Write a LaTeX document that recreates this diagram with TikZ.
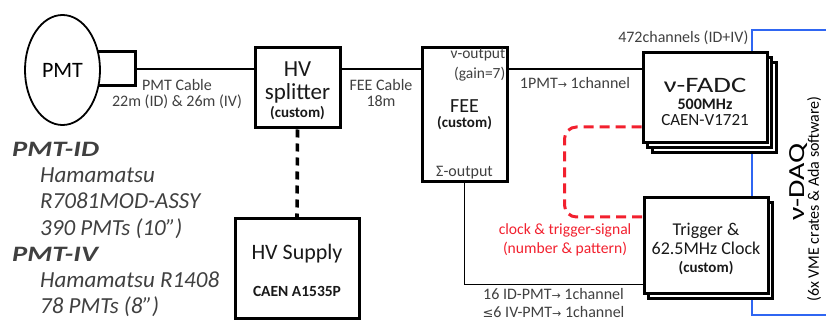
\documentclass[tikz,border=0pt]{standalone}
\usepackage{fontspec}
\setmainfont{Carlito}
\newfontfamily\symfont{DejaVu Sans}
\newfontfamily\widefont[FakeStretch=1.3]{Carlito}
\newfontfamily\headfont[FakeStretch=1.3]{Carlito}
\usetikzlibrary{positioning, shadows, shapes.geometric}
\definecolor{labelgray}{HTML}{404040}
\definecolor{trigred}{HTML}{F2202E}
\definecolor{daqblue}{HTML}{2F66F2}
\newcommand{\fsz}[1]{\fontsize{#1}{#1}\selectfont}
\newcommand{\pmtarrow}{{\symfont\fontsize{11}{11}\selectfont →}}
\newcommand{\leqsym}{{\symfont\fontsize{13}{13}\selectfont ≤}}

\begin{document}
\begin{tikzpicture}[
      x=1pt, y=-1pt,
      % ブロックの基本スタイル設定
      block/.style={rectangle, draw, line width=3pt, fill=white, align=center, inner sep=0pt, text=black!90},
      shade1/.style={copy shadow={shadow xshift=4.5pt, shadow yshift=-5pt, draw, fill=white, line width=3pt}},
      shade2/.style={copy shadow={shadow xshift=9pt, shadow yshift=-10pt, draw, fill=white, line width=3pt}, shade1},
      % 線のスタイル設定
      cable/.style={draw, line width=1.8pt},
      hvline/.style={draw, line width=3.6pt, dash pattern=on 8pt off 6pt},
      trigline/.style={draw=trigred, line width=3pt, dash pattern=on 10pt off 6pt, rounded corners=12pt},
      daqline/.style={draw=daqblue, line width=2.8pt},
      tag/.style={text=labelgray, align=center, inner sep=1pt, font=\fsz{16}}
    ]
    \clip (0,0) rectangle (826,320);

    % --- 右端：DAQ（青枠） ---
    \node [daqline, minimum width=130pt, minimum height=285pt, inner sep=0pt] (daq) at (817,172.5) {};
    \node [tag, anchor=north east, inner sep=2pt] (nch) at (daq.north west) {472channels (ID+IV)};
    \node [rotate=90, font=\widefont\fsz{23}] (daqname) at (799,182) {ν-DAQ};
    \node [rotate=90, font=\fsz{16}] (daqinfo) at (814,199) {(6x VME crates \& Ada software)};

    % --- 左側：PMT ---
    \node [draw, line width=3pt, minimum width=45pt, minimum height=34pt] (base) at (112.5,69) {};
    \node [ellipse, draw, line width=1.8pt, fill=white, minimum width=75pt, minimum height=110pt, font=\fsz{22}] (pmt) at (62.5,70) {PMT};
    \node [anchor=north west, align=left, inner sep=0pt, text=labelgray, font=\itshape\fontsize{23}{26.2}\selectfont] (spec) at (12,142)
      {{\headfont\bfseries\fsz{22}PMT-ID}\\
       \hspace*{28pt}Hamamatsu\\
       \hspace*{28pt}R7081MOD-ASSY\\
       \hspace*{28pt}390 PMTs (10”)\\
       {\headfont\bfseries\fsz{22}PMT-IV}\\
       \hspace*{28pt}Hamamatsu R1408\\
       \hspace*{28pt}78 PMTs (8”)};

    % --- 中央：HV と FEE ---
    \node [block, minimum width=85pt, minimum height=80pt, text height=60pt, text depth=0pt, font=\fontsize{23}{23.3}\selectfont] (splitter) at (297.5,88)
      {HV\\splitter\\[-5pt]{\bfseries\fsz{15}(custom)}};
    \node [block, minimum width=124pt, minimum height=99pt, text height=55pt, text depth=0pt, font=\fontsize{22}{36.7}\selectfont] (hvsupply) at (297,268.5)
      {HV Supply\\{\bfseries\fsz{15.5}CAEN A1535P}};
    \node [block, minimum width=85pt, minimum height=134pt, text height=27pt, text depth=0pt, font=\fontsize{15}{15.2}\selectfont] (fee) at (464.5,114.5)
      {{\fsz{20}FEE}\\{\bfseries(custom)}};
    \node [tag, anchor=north east, align=right, inner sep=3pt, font=\fontsize{15.5}{20}\selectfont] (vout) at (fee.north east) {ν-output\\(gain=7)};
    \node [tag, anchor=south, inner sep=4pt] (sout) at (fee.south) {Σ-output};

    % --- 右側：FADC と Trigger ---
    \node [block, shade2, minimum width=124pt, minimum height=90pt, text height=56pt, text depth=0pt, font=\fontsize{17}{16}\selectfont] (fadc) at (705,98)
      {{\widefont\fsz{22}ν-FADC}\\[1.7pt]{\bfseries\fsz{16}500MHz}\\CAEN-V1721};
    \node [block, shade1, minimum width=124pt, minimum height=95pt, text height=53pt, text depth=0pt, font=\fontsize{18}{19}\selectfont] (trigger) at (706,245.5)
      {Trigger \&\\62.5MHz Clock\\[-1pt]{\bfseries\fsz{15}(custom)}};
    \node [tag, text=trigred, font=\fontsize{15.6}{19}\selectfont, left=10pt of trigger, yshift=6pt] (siglabel) {clock \& trigger-signal\\(number \& pattern)};

    % --- 矢印とラベルの描画 ---
    \draw [cable] (base.east) -- node[tag, below=8pt, xshift=-18pt] {PMT Cable\\22m (ID) \& 26m (IV)} (base.east -| splitter.west);
    \draw [cable] (base.east -| splitter.east) -- node[tag, below=8pt] {FEE Cable\\18m} (base.east -| fee.west);
    \draw [cable] (base.east -| fee.east) -- node[tag, below=6pt] {1PMT\pmtarrow\ 1channel} (base.east -| fadc.west);
    \draw [hvline] (splitter.south) -- (hvsupply.north);

    % Σ出力からトリガーへ
    \coordinate (sumin) at ([yshift=10pt]trigger.south west);
    \draw [cable] (fee.south) |- node[tag, pos=0.75, below=2pt, font=\fontsize{16}{18}\selectfont] {16 ID-PMT\pmtarrow\ 1channel\\\leqsym6 IV-PMT\pmtarrow\ 1channel} (sumin);

    % クロック・トリガー信号（赤破線）
    \coordinate (fadcin) at ([yshift=-29pt]fadc.west);
    \coordinate (trigin) at ([yshift=28.5pt]trigger.west);
    \draw [trigline] (fadcin) -| ([xshift=-78pt]trigin) -- (trigin);

  \end{tikzpicture}
\end{document}
